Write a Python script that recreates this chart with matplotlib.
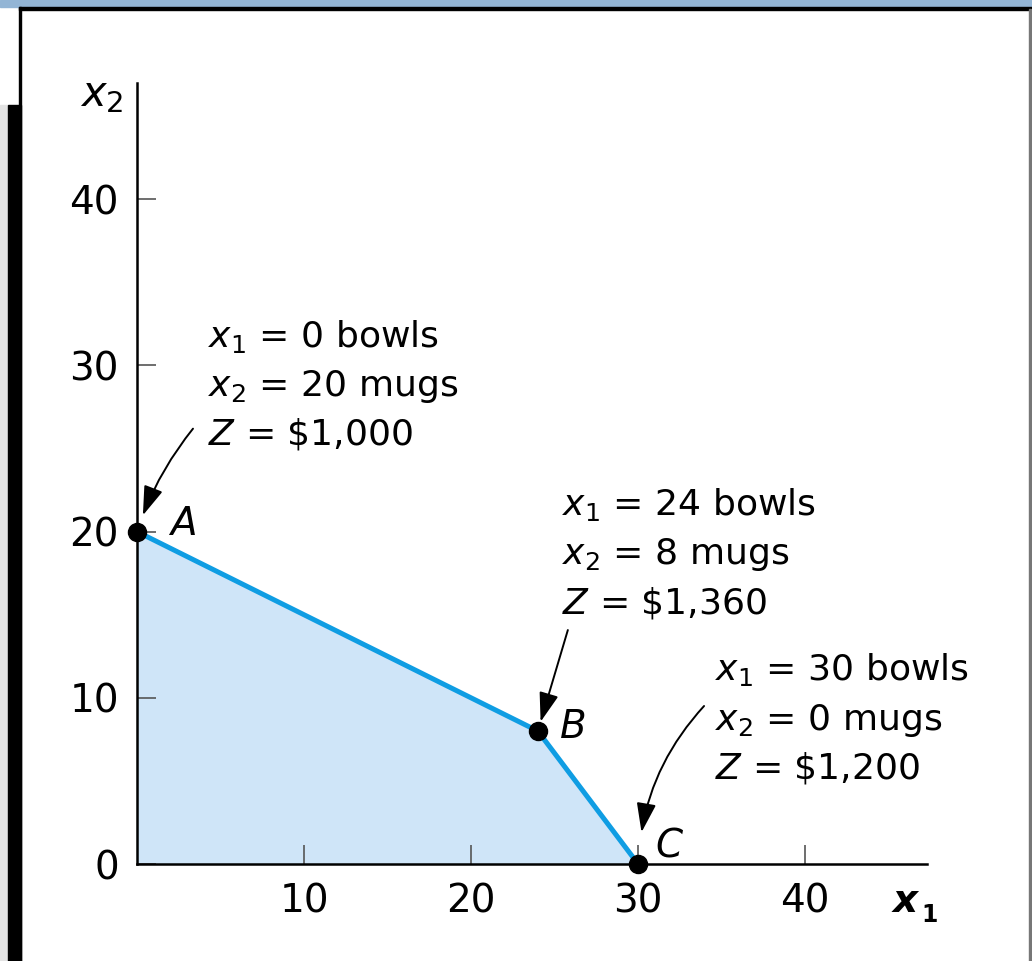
import matplotlib
matplotlib.use('Agg')
import matplotlib.pyplot as plt
import numpy as np
from matplotlib.patches import Rectangle

# ---------------- data ----------------
point_labels = ['A', 'B', 'C']
x1_vals = [0, 24, 30]          # bowls
x2_vals = [20, 8, 0]           # mugs
z_vals = ['1,000', '1,360', '1,200']
x_ticks = [10, 20, 30, 40]
y_ticks = [0, 10, 20, 30, 40]
x_max = 47.3
y_max = 47.0

# ---------------- layout (pixels -> points) ----------------
W, H = 1032, 961
P = 0.72  # points per pixel at dpi=100
text_dx = [71, 24, 77]
text_dy = [[185, 136, 87], [216, 167, 118], [184, 134, 86]]
arrow_start = [(56, 103), (30, 101), (66, 158)]
arrow_shrink = [12.5, 7, 23]
arrow_rad = [0.09, 0.0, 0.18]
label_off = [(33, -3), (22, -7), (17, 7)]

plt.rcParams['font.family'] = ['DejaVu Sans']
plt.rcParams['mathtext.fontset'] = 'dejavusans'

fig = plt.figure(figsize=(W / 100, H / 100), dpi=100)
fig.patch.set_facecolor('white')

# page decorations
fig.patches.append(Rectangle((0, 1 - 7 / H), 1, 7 / H, transform=fig.transFigure,
                             color='#93b5d5', zorder=0))
fig.patches.append(Rectangle((19 / W, 1 - 9.5 / H), 1, 2.5 / H, transform=fig.transFigure,
                             color='black', zorder=0))
fig.patches.append(Rectangle((19 / W, 0), 2 / W, 1 - 7 / H, transform=fig.transFigure,
                             color='black', zorder=0))
fig.patches.append(Rectangle((0, 0), 7.5 / W, 1 - 105 / H, transform=fig.transFigure,
                             color='#e3e3e3', zorder=0))
fig.patches.append(Rectangle((7.5 / W, 0), 13.5 / W, 1 - 105 / H, transform=fig.transFigure,
                             color='black', zorder=0))
fig.patches.append(Rectangle((1029 / W, 0), 2 / W, 1 - 9 / H, transform=fig.transFigure,
                             color='#777777', zorder=0))

ax = fig.add_axes([137 / W, (H - 864) / H, (927 - 137) / W, (864 - 83) / H])
ax.set_facecolor('none')
ax.set_xlim(0, x_max)
ax.set_ylim(0, y_max)

for s in ['top', 'right']:
    ax.spines[s].set_visible(False)
for s in ['left', 'bottom']:
    ax.spines[s].set_linewidth(1.8)
    ax.spines[s].set_color('black')
    ax.spines[s].set_zorder(5)

ax.set_xticks(x_ticks)
ax.set_yticks(y_ticks)
ax.set_xticklabels([str(t) for t in x_ticks])
ax.set_yticklabels([str(t) for t in y_ticks])
ax.tick_params(direction='in', length=14, width=1.2, color='#555555',
               labelsize=28, pad=13)

# feasible region
ax.fill(np.r_[0, x1_vals], np.r_[0, x2_vals], color='#cfe5f8', zorder=1, lw=0)
ax.plot(x1_vals, x2_vals, color='#0f9de3', lw=3.6, zorder=3, solid_capstyle='butt')
ax.plot(x1_vals, x2_vals, 'o', color='black', markersize=13, zorder=6, clip_on=False)

for i, lab in enumerate(point_labels):
    pt = (x1_vals[i], x2_vals[i])
    lines = [rf'$x_1$ = {x1_vals[i]} bowls',
             rf'$x_2$ = {x2_vals[i]} mugs',
             r'$Z$ = \$' + z_vals[i]]
    for line, dy in zip(lines, text_dy[i]):
        ax.annotate(line, xy=pt, xytext=(text_dx[i] * P, dy * P),
                    textcoords='offset points', ha='left', va='baseline',
                    fontsize=26, annotation_clip=False)
    ax.annotate('', xy=pt, xytext=(arrow_start[i][0] * P, arrow_start[i][1] * P),
                textcoords='offset points', annotation_clip=False,
                arrowprops=dict(arrowstyle='-|>,head_length=0.9,head_width=0.3',
                                mutation_scale=20, color='black', lw=1.4,
                                shrinkA=0, shrinkB=arrow_shrink[i],
                                connectionstyle=f'arc3,rad={arrow_rad[i]}'),
                zorder=7)
    ax.annotate(lab, xy=pt, xytext=(label_off[i][0] * P, label_off[i][1] * P),
                textcoords='offset points', ha='left', va='baseline',
                fontsize=28, style='italic', annotation_clip=False)

# axis labels
fig.text(123 / W, 1 - 106 / H, r'$x_2$', ha='right', va='baseline', fontsize=30)
fig.text(893 / W, 1 - 912 / H, 'x', ha='left', va='baseline', fontsize=28,
         style='italic', weight='bold')
fig.text(921 / W, 1 - 922 / H, '1', ha='left', va='baseline', fontsize=17,
         weight='bold')

fig.savefig('out.png', dpi=100)
